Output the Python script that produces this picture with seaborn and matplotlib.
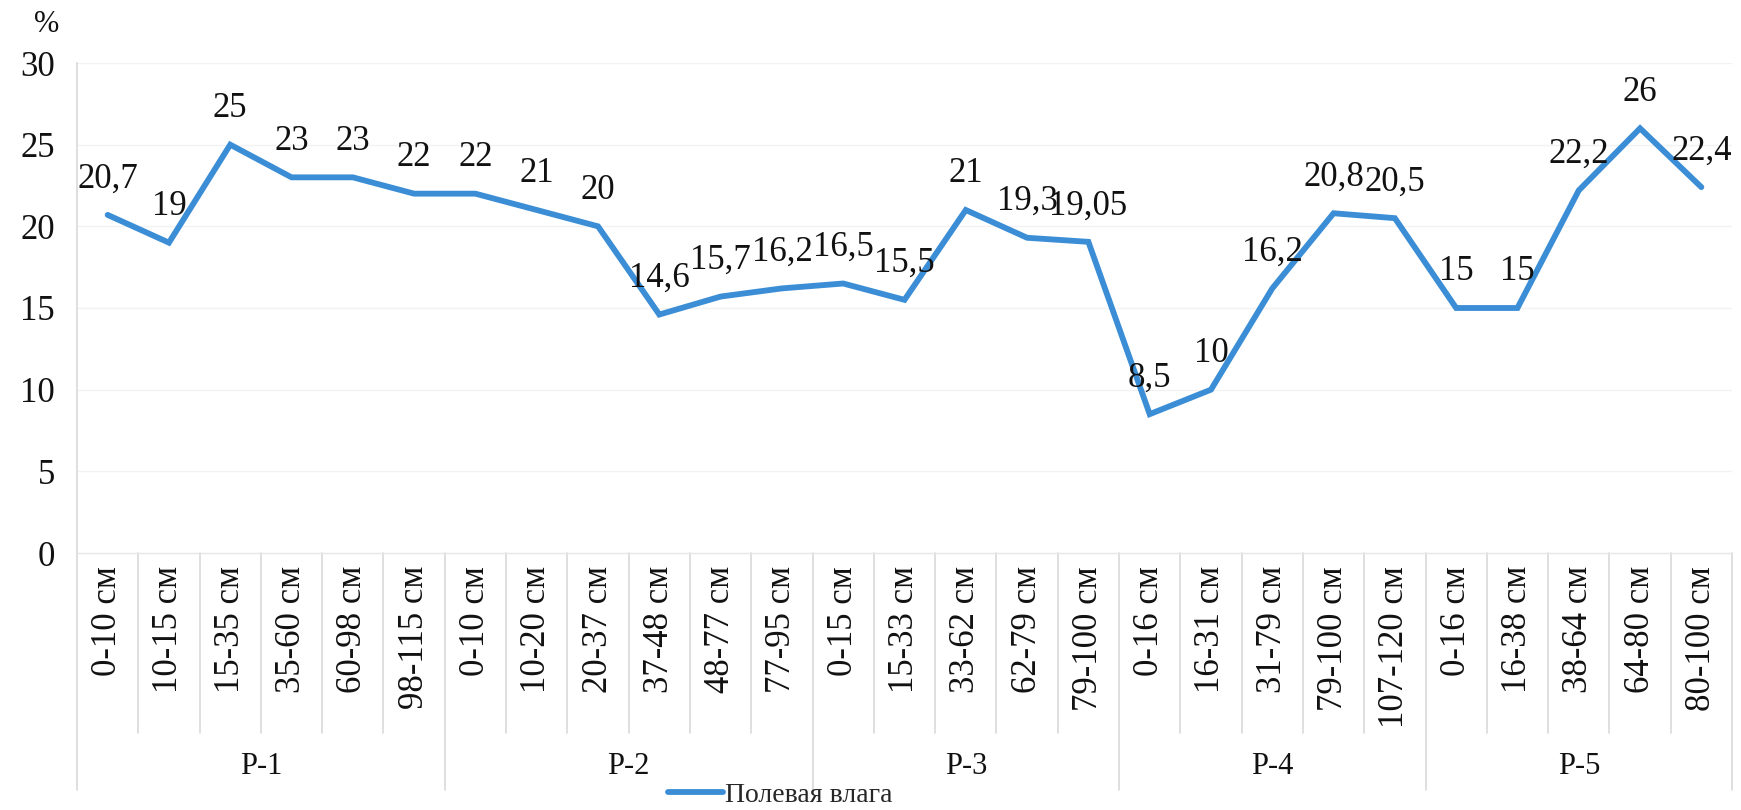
import numpy as np
import pandas as pd
import matplotlib
matplotlib.use("Agg")
import matplotlib.pyplot as plt
import matplotlib.transforms as mtransforms
import seaborn as sns

# ---- data ----
groups = ["Р-1", "Р-2", "Р-3", "Р-4", "Р-5"]
depths_p1 = ["0-10 см", "10-15 см", "15-35 см", "35-60 см", "60-98 см", "98-115 см"]
depths_p2 = ["0-10 см", "10-20 см", "20-37 см", "37-48 см", "48-77 см", "77-95 см"]
depths_p3 = ["0-15 см", "15-33 см", "33-62 см", "62-79 см", "79-100 см"]
depths_p4 = ["0-16 см", "16-31 см", "31-79 см", "79-100 см", "107-120 см"]
depths_p5 = ["0-16 см", "16-38 см", "38-64 см", "64-80 см", "80-100 см"]
values_p1 = [20.7, 19, 25, 23, 23, 22]
values_p2 = [22, 21, 20, 14.6, 15.7, 16.2]
values_p3 = [16.5, 15.5, 21, 19.3, 19.05]
values_p4 = [8.5, 10, 16.2, 20.8, 20.5]
values_p5 = [15, 15, 22.2, 26, 22.4]
series_name = "Полевая влага"
y_ticks = [0, 5, 10, 15, 20, 25, 30]

depth_lists = [depths_p1, depths_p2, depths_p3, depths_p4, depths_p5]
value_lists = [values_p1, values_p2, values_p3, values_p4, values_p5]

rows = []
for g, ds, vs in zip(groups, depth_lists, value_lists):
    for d, v in zip(ds, vs):
        rows.append({"group": g, "depth": d, "value": v})
df = pd.DataFrame(rows)
df["pos"] = np.arange(len(df))

# ---- style ----
sns.set_theme(style="white")
plt.rcParams["font.family"] = ["Liberation Serif", "DejaVu Serif"]
FS_TICK = 25
FS_LAB = 25
FS_CAT = 25
FS_GRP = 22
FS_LEG = 20
LINE_COLOR = "#3B8ED6"
SEP_COLOR = "#d9d9d9"
TXT = "#111111"

W, H = 1741, 810
fig = plt.figure(figsize=(W / 100, H / 100), dpi=100)
ax_left, ax_right, ax_top, ax_bottom = 77, 1732, 63, 553
ax = fig.add_axes([ax_left / W, 1 - ax_bottom / H, (ax_right - ax_left) / W, (ax_bottom - ax_top) / H])
ax_h = ax_bottom - ax_top

def yfrac(py):
    return (ax_bottom - py) / ax_h

sns.lineplot(data=df, x="pos", y="value", ax=ax, color=LINE_COLOR, lw=4.2,
             label=series_name, legend=False, solid_joinstyle="miter")

n = len(df)
ax.set_xlim(-0.5, n - 0.5)
ax.set_ylim(0, 30)
ax.set_yticks(y_ticks)
ax.set_yticklabels([str(t) for t in y_ticks], fontsize=FS_TICK, color=TXT)
ax.tick_params(axis="y", length=0, pad=16)
ax.set_xticks([])
ax.set_xlabel("")
ax.set_ylabel("")
for t in y_ticks[1:]:
    ax.axhline(t, color="#f2f2f2", lw=1, zorder=0)
for s in ["top", "right"]:
    ax.spines[s].set_visible(False)
ax.spines["left"].set_color(SEP_COLOR)
ax.spines["bottom"].set_color("#e6e6e6")
ax.spines["left"].set_linewidth(1.2)
ax.spines["bottom"].set_linewidth(1.0)

# data labels
for p, v in zip(df["pos"], df["value"]):
    ax.annotate(f"{v:g}".replace(".", ","), (p, v), xytext=(0, 26), textcoords="offset points",
                ha="center", va="center", fontsize=FS_LAB, color=TXT)

trans = mtransforms.blended_transform_factory(ax.transData, ax.transAxes)

# category labels
for p, d in zip(df["pos"], df["depth"]):
    ax.text(p, yfrac(566), d, rotation=90, ha="center", va="top", fontsize=FS_CAT,
            transform=trans, color=TXT)

# separators
group_bounds = [-0.5]
cnt = 0
for ds in depth_lists:
    cnt += len(ds)
    group_bounds.append(cnt - 0.5)
for b in np.arange(-0.5, n, 1.0):
    is_group = any(abs(b - gb) < 1e-6 for gb in group_bounds)
    y_end = yfrac(790) if is_group else yfrac(733)
    ax.plot([b, b], [0, y_end], transform=trans, color=SEP_COLOR, lw=1.2, clip_on=False)

# group labels
for i, g in enumerate(groups):
    c = (group_bounds[i] + group_bounds[i + 1]) / 2
    ax.text(c, yfrac(767), g, ha="center", va="center", fontsize=FS_GRP, transform=trans, color=TXT)

# percent sign
fig.text(47 / W, 1 - 24 / H, "%", ha="center", va="center", fontsize=22, color=TXT)

# legend
handles, labels = ax.get_legend_handles_labels()
fig.legend(handles, labels, loc="center", bbox_to_anchor=(780 / W, 1 - 795 / H),
           frameon=False, fontsize=FS_LEG, handlelength=2.0, handletextpad=0.05,
           borderpad=0, borderaxespad=0)

fig.savefig("out.png", dpi=100, facecolor="white")
